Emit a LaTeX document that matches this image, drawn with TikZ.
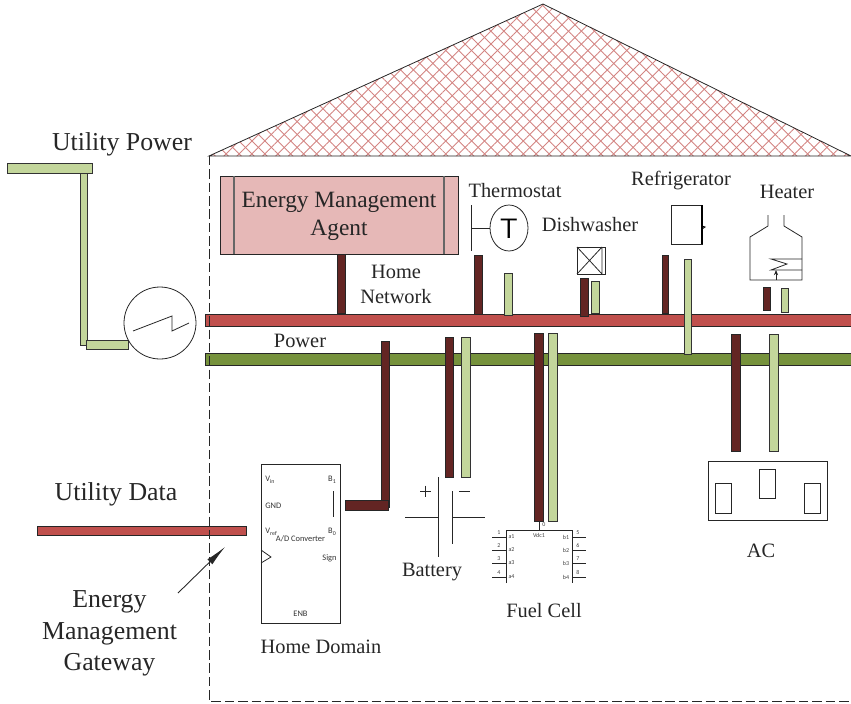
\documentclass[tikz,border=0pt]{standalone}
\usepackage{fontspec}
\setmainfont{Liberation Serif}
\newfontfamily\chipfont{Carlito}
\usetikzlibrary{arrows.meta,patterns.meta}
\definecolor{netred}{HTML}{C0504D}
\definecolor{powgreen}{HTML}{76923C}
\definecolor{lightgreen}{HTML}{C3D69B}
\definecolor{darkbrown}{HTML}{632523}
\definecolor{agentpink}{HTML}{E6B8B7}
\tikzset{
  redbar/.style={draw=black!85,fill=netred,line width=0.5pt},
  greenbar/.style={draw=black!85,fill=powgreen,line width=0.5pt},
  lightbar/.style={draw=black!80,fill=lightgreen,line width=0.5pt},
  darkbar/.style={draw=black!85,fill=darkbrown,line width=0.5pt},
  symline/.style={draw=black!85,line width=0.45pt},
  lbl/.style={inner sep=0pt,font=\fontsize{11.6}{13}\selectfont,text=black!85},
  biglbl/.style={inner sep=0pt,font=\fontsize{14.7}{17.5}\selectfont,text=black!85,align=center},
  pinlbl/.style={inner sep=0pt,font=\chipfont\fontsize{4.8}{5}\selectfont,text=black!80},
  chiplbl/.style={inner sep=0pt,font=\chipfont\fontsize{3.4}{4}\selectfont,text=black!75}
}
\begin{document}
\begin{tikzpicture}[x=0.02cm,y=-0.02cm]
  \useasboundingbox (0,0) rectangle (851,703);
  % roof
  \fill[pattern={Lines[angle=45,distance=5.2pt,line width=0.5pt]},pattern color=netred!70] (209,156) -- (543,4) -- (851,156) -- cycle;
  \fill[pattern={Lines[angle=-45,distance=5.2pt,line width=0.5pt]},pattern color=netred!70] (209,156) -- (543,4) -- (851,156) -- cycle;
  \draw[symline] (209,156) -- (543,4) -- (851,156) -- cycle;
  % main bars
  \draw[redbar] (205,314) rectangle (853,326);
  \draw[greenbar] (205,353) rectangle (853,365);
  % utility side
  \draw[lightbar] (80,173) rectangle (87,345);
  \draw[lightbar] (86,340) rectangle (128,349);
  \draw[lightbar] (7,163) rectangle (92,173);
  \draw[symline,fill=white] (160,323) circle (36);
  \draw[symline] (133,331) -- (172,316) -- (172,331) -- (189,323);
  \draw[redbar] (37,526) rectangle (246,535);
  % agent
  \node[draw=black!85,fill=agentpink,line width=0.5pt,minimum width=238*0.02cm,minimum height=78*0.02cm,inner sep=0pt] (agent) at (339,215) {};
  \draw[draw=black!60,line width=0.8pt] (234,176) -- (234,254) (444,176) -- (444,254);
  \node[biglbl,font=\fontsize{13.3}{16}\selectfont] (agenttext) at (339,216.5) {Energy Management\\Agent};
  % short feeders above the power line
  \foreach \xa/\ya/\xb/\yb in {337/254/345/313,474.5/255/482.5/314,580/278/588/316,662/255/668/313,763/287/770/310,
    381/341/389/507,445/337/453/477,534/333/543/521,731/334/740/451} {
    \draw[darkbar] (\xa,\ya) rectangle (\xb,\yb);
  }
  \foreach \xa/\ya/\xb/\yb in {504/273/512/315,591/281/599/313,684/259/691/354,781/288/788/312,
    461/337/470/477,548/333/557/521,769/334/778/451} {
    \draw[lightbar] (\xa,\ya) rectangle (\xb,\yb);
  }
  \draw[darkbar] (345,500) rectangle (388,510);
  % house outline
  \draw[draw=black!85,line width=0.45pt,dash pattern=on 5.4pt off 2.2pt] (209,156) -- (209,701) -- (851,701);
  % thermostat
  \draw[symline] (471,205) -- (471,251) (471,228) -- (490,228);
  \draw[symline] (509,228) ellipse (19 and 23);
  \node[inner sep=0pt,font=\sffamily\fontsize{16}{16}\selectfont] (thermot) at (509,229) {T};
  % dishwasher
  \draw[symline] (577,247) rectangle (605,274);
  \draw[symline] (577,247) -- (602,274) (602,247) -- (577,274) (602,247) -- (602,274);
  % refrigerator
  \draw[symline] (671,205) rectangle (702,244);
  \draw[black,line width=1pt] (702,205) -- (702,244);
  \draw[black,line width=0.5pt] (702,226) -- (705,227) -- (702,229);
  % heater
  \draw[symline] (768,215) -- (768,226) -- (750,237) -- (750,280) -- (802,280) -- (802,237) -- (784,226) -- (784,215);
  \draw[symline] (802,259) -- (771,259) -- (787,264) -- (771,270) -- (802,270);
  \draw[draw=black!85,line width=0.45pt,-{Stealth[length=3pt,width=2.4pt]}] (776,280) -- (776,270);
  % ac socket
  \draw[symline] (708,461) rectangle (827,520);
  \draw[symline] (715,483) rectangle (731,513);
  \draw[symline] (759,469) rectangle (775,498);
  \draw[symline] (804,483) rectangle (820,513);
  % battery
  \draw[symline] (405,517) -- (438,517) (438,477) -- (438,557) (452,491) -- (452,544) (452,517) -- (485,517);
  \draw[symline] (420,491) -- (431,491) (425.5,485.5) -- (425.5,497) (459,491) -- (470,491);
  % a/d converter
  \draw[symline] (261,464) rectangle (340,623);
  \draw[symline] (261,550) -- (271,557) -- (261,563);
  \draw[symline] (333,491) -- (333,517);
  \node[pinlbl,anchor=west] (vin) at (265,480) {V\textsubscript{in}};
  \node[pinlbl,anchor=west] (gnd) at (265,506) {GND};
  \node[pinlbl,anchor=west] (vref) at (265,532) {V\textsubscript{ref}};
  \node[pinlbl,anchor=east] (bone) at (337,480) {B\textsubscript{1}};
  \node[pinlbl,anchor=east] (bzero) at (337,532) {B\textsubscript{0}};
  \node[pinlbl] (adc) at (300.5,539) {A/D Converter};
  \node[pinlbl,anchor=east] (sign) at (337,558) {Sign};
  \node[pinlbl] (enb) at (300.5,614) {ENB};
  % fuel cell chip
  \draw[symline] (506,583) -- (506,530) -- (572,530) -- (572,583);
  \draw[symline] (539,521) -- (539,530);
  \node[chiplbl] (zero) at (544,525) {0};
  \node[chiplbl] (vdc) at (539,535) {Vdc1};
  \foreach \n/\y in {1/537,2/550,3/563,4/577} {
    \draw[symline] (492,\y) -- (506,\y);
    \node[chiplbl] (pin\n) at (499,\y-4.5) {\n};
    \node[chiplbl] (a\n) at (511.5,\y) {a\n};
  }
  \foreach \n/\m/\y in {5/1/537,6/2/550,7/3/563,8/4/577} {
    \draw[symline] (572,\y) -- (586,\y);
    \node[chiplbl] (pin\n) at (578,\y-4.5) {\n};
    \node[chiplbl] (b\m) at (566,\y) {b\m};
  }
  % gateway arrow
  \coordinate (gwtail) at (178,593);
  \coordinate (gwhead) at (225,547);
  \draw[draw=black!85,line width=0.5pt,-{Latex[length=12pt,width=4pt]}] (gwtail) -- (gwhead);
  % labels
  \node[biglbl] (utilpower) at (122,144) {Utility Power};
  \node[biglbl] (utildata) at (116,494) {Utility Data};
  \node[biglbl] (gwlabel) at (109.5,633.5) {Energy\\[0.4pt]Management\\[0.4pt]Gateway};
  \node[lbl] (thermostat) at (515,191) {Thermostat};
  \node[lbl] (dishwasher) at (590,225) {Dishwasher};
  \node[lbl] (fridge) at (681,181) {Refrigerator};
  \node[lbl] (heater) at (787,192) {Heater};
  \node[lbl] (homenet) at (396,272) {Home};
  \node[lbl] (homenetb) at (396,297) {Network};
  \node[lbl] (power) at (300,341) {Power};
  \node[lbl] (battery) at (432,572) {Battery};
  \node[lbl] (fuelcell) at (544,611) {Fuel Cell};
  \node[lbl] (ac) at (761,551) {AC};
  \node[lbl] (homedomain) at (321,647) {Home Domain};
\end{tikzpicture}
\end{document}
